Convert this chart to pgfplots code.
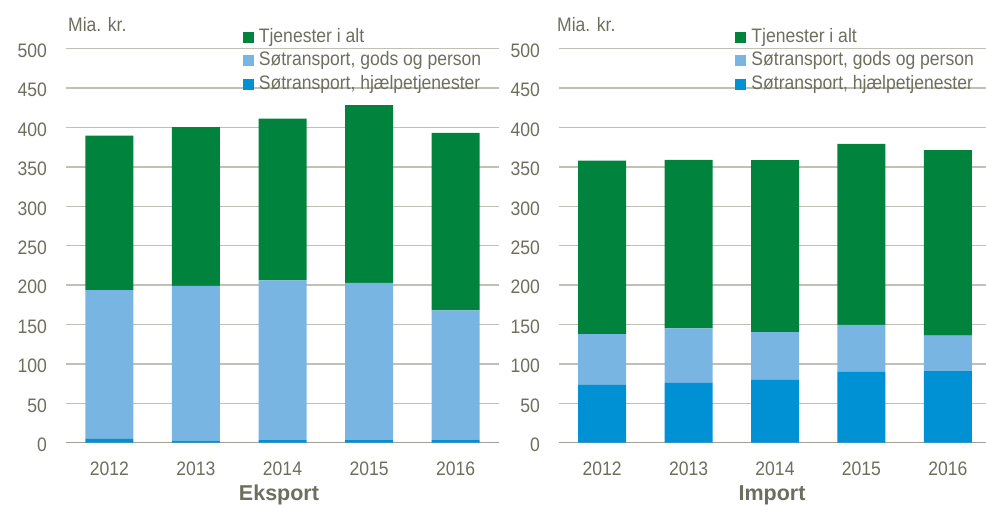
\documentclass[border=0pt]{standalone}
\usepackage{fontspec}
\setmainfont{Liberation Sans}[FakeStretch=0.9]
\newfontfamily\titlefont{Liberation Sans}
\usepackage{pgfplots}
\pgfplotsset{compat=1.18}
\definecolor{cgreen}{RGB}{0,132,61}
\definecolor{clight}{RGB}{121,181,227}
\definecolor{cblue}{RGB}{0,144,212}
\definecolor{ctext}{RGB}{110,110,95}
\definecolor{cgrid}{RGB}{192,192,182}
\definecolor{caxis}{RGB}{160,160,150}
\pgfplotsset{
  mybars/.style={
    ybar stacked, bar width=48pt,
    scale only axis, height=394pt,
    xmin=-0.5, xmax=4.5, ymin=0, ymax=500,
    ytick={0,50,...,500},
    xtick={0,...,4}, xticklabels={2012,2013,2014,2015,2016},
    axis x line*=bottom, axis y line*=left,
    y axis line style={draw=none},
    x axis line style={draw=caxis, line width=1.3pt},
    ymajorgrids, grid style={draw=cgrid, line width=1.3pt},
    major tick length=0pt,
    /pgf/number format/assume math mode=true,
    tick label style={font=\fontsize{19.5}{21}\selectfont, text=ctext},
    yticklabel style={anchor=east, inner sep=0pt, xshift=-19pt, yshift=-2pt},
    xticklabel style={anchor=base, inner sep=0pt, yshift=-33pt},
    reverse legend,
    legend style={anchor=north west, draw=none, fill=none, inner sep=0pt,
      font=\fontsize{19.5}{21}\selectfont, text=ctext,
      row sep=1pt,
      nodes={inner sep=2pt, text height=14pt, text depth=4.5pt},
      /tikz/every odd column/.append style={column sep=3pt},
      cells={anchor=west}},
  },
  sq/.style={draw=none, fill=#1,
    legend image code/.code={\fill[#1] (0pt,-5.5pt) rectangle (11pt,5.5pt);}},
}
\begin{document}
\begin{tikzpicture}
\useasboundingbox (0pt,0pt) rectangle (986pt,-505pt);
% Eksport
\begin{axis}[mybars, width=433pt, at={(66pt,-442.7pt)}, anchor=south west,
  legend style={at={(axis description cs:0.408,1.058)}}]
\addplot[sq=cblue] coordinates {(0,5) (1,2.5) (2,4) (3,4) (4,4)};
\addplot[sq=clight] coordinates {(0,188.7) (1,196.5) (2,201.9) (3,198.9) (4,164)};
\addplot[sq=cgreen] coordinates {(0,196) (1,201.4) (2,205.5) (3,225.4) (4,225.3)};
\legend{{Søtransport, hjælpetjenester},{Søtransport, gods og person},{Tjenester i alt}}
\end{axis}
% Import
\begin{axis}[mybars, width=432pt, at={(559pt,-442.7pt)}, anchor=south west,
  legend style={at={(axis description cs:0.408,1.058)}}]
\addplot[sq=cblue] coordinates {(0,73.3) (1,75.8) (2,79.7) (3,89.8) (4,90.7)};
\addplot[sq=clight] coordinates {(0,64.5) (1,69.2) (2,60.6) (3,59.8) (4,45.3)};
\addplot[sq=cgreen] coordinates {(0,220.2) (1,214) (2,218.2) (3,229.7) (4,235.3)};
\legend{{Søtransport, hjælpetjenester},{Søtransport, gods og person},{Tjenester i alt}}
\end{axis}
\node[anchor=base west, text=ctext, font=\fontsize{19.5}{21}\selectfont, inner sep=0pt] at (68pt,-31.7pt) {Mia. kr.};
\node[anchor=base west, text=ctext, font=\fontsize{19.5}{21}\selectfont, inner sep=0pt] at (557pt,-31.7pt) {Mia. kr.};
\node[anchor=base, text=ctext, font=\titlefont\fontsize{21.5}{24}\selectfont\bfseries, inner sep=0pt] at (279pt,-500pt) {Eksport};
\node[anchor=base, text=ctext, font=\titlefont\fontsize{21.5}{24}\selectfont\bfseries, inner sep=0pt] at (772pt,-500pt) {Import};
\end{tikzpicture}
\end{document}
